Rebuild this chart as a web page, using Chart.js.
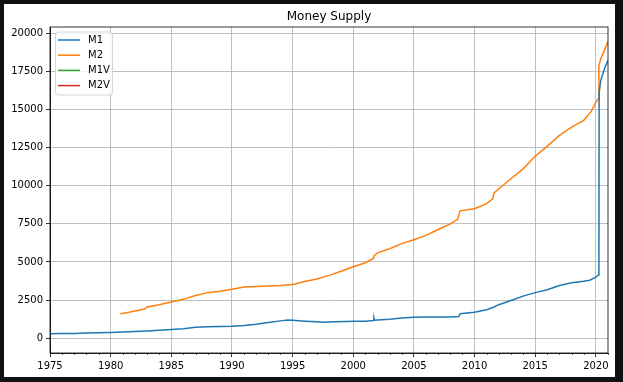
<!DOCTYPE html>
<html>
<head>
<meta charset="utf-8">
<script src="https://cdn.jsdelivr.net/npm/chart.js@4"></script>
<style>
  html, body { margin: 0; padding: 0; background: #111111; }
  canvas { display: block; }
</style>
</head>
<body>
<canvas id="c" width="623" height="382"></canvas>
<script>
const chartTitle = "Money Supply";
const seriesNames = ["M1", "M2", "M1V", "M2V"];
const seriesColors = ["#1f77b4", "#ff7f0e", "#2ca02c", "#d62728"];
const xTicks = [1975, 1980, 1985, 1990, 1995, 2000, 2005, 2010, 2015, 2020];
const yTicks = [0, 2500, 5000, 7500, 10000, 12500, 15000, 17500, 20000];

const m1Years = [1975.0, 1976.0, 1977.0, 1978.0, 1979.0, 1980.0, 1981.0, 1982.0, 1983.0, 1984.0,
  1985.0, 1986.0, 1987.0, 1988.0, 1989.0, 1990.0, 1991.0, 1992.0, 1993.0, 1994.0, 1994.6, 1995.0,
  1996.0, 1997.0, 1997.5, 1998.5, 1999.5, 2000.0, 2001.0, 2001.68, 2001.70, 2001.74, 2002.0, 2003.0,
  2004.0, 2005.0, 2006.0, 2007.0, 2008.0, 2008.7, 2008.8, 2009.0, 2010.0, 2011.0, 2011.6, 2012.0,
  2013.0, 2014.0, 2015.0, 2016.0, 2017.0, 2018.0, 2019.0, 2019.5, 2020.0, 2020.2, 2020.25, 2020.27,
  2020.4, 2020.75, 2021.0];
const m1Values = [295, 305, 320, 345, 365, 385, 410, 440, 480, 520,
  570, 630, 720, 750, 775, 790, 830, 920, 1030, 1140, 1190, 1180,
  1120, 1075, 1050, 1075, 1100, 1110, 1110, 1160, 1320, 1180, 1200, 1250,
  1330, 1380, 1390, 1390, 1395, 1430, 1600, 1620, 1700, 1870, 2050, 2200,
  2480, 2760, 2990, 3180, 3460, 3640, 3730, 3800, 4000, 4150, 4900, 16100,
  16880, 17760, 18200];

const m2Years = [1980.8, 1981.5, 1982.0, 1982.8, 1983.0, 1984.0, 1985.0, 1986.0, 1987.0, 1988.0,
  1989.0, 1990.0, 1991.0, 1992.0, 1993.0, 1994.0, 1995.0, 1996.0, 1997.0, 1998.0, 1999.0, 2000.0,
  2001.0, 2001.68, 2001.72, 2002.0, 2003.0, 2004.0, 2005.0, 2006.0, 2007.0, 2008.0, 2008.6, 2008.8,
  2010.0, 2011.0, 2011.5, 2011.6, 2012.0, 2013.0, 2014.0, 2015.0, 2016.0, 2017.0, 2018.0, 2019.0,
  2019.6, 2020.0, 2020.2, 2020.25, 2020.4, 2020.75, 2021.0];
const m2Values = [1610, 1700, 1780, 1920, 2050, 2200, 2380, 2550, 2800, 2990,
  3080, 3210, 3360, 3400, 3430, 3450, 3530, 3720, 3880, 4120, 4390, 4690,
  4950, 5250, 5420, 5600, 5870, 6200, 6460, 6740, 7130, 7500, 7790, 8350,
  8490, 8820, 9140, 9520, 9800, 10450, 11100, 11930, 12590, 13290, 13830, 14280,
  14850, 15460, 15690, 17870, 18300, 18960, 19440];

const m1vYears = [];
const m1vValues = [];
const m2vYears = [];
const m2vValues = [];

const xMin = 1975, xMax = 2021.0;
const yMin = -965, yMax = 20395;

function toPoints(xs, ys) { return xs.map((x, i) => ({ x: x, y: ys[i] })); }

const FONT = "'DejaVu Sans', sans-serif";

const figurePlugin = {
  id: 'figure',
  beforeDraw(chart) {
    const ctx = chart.ctx;
    ctx.save();
    ctx.fillStyle = '#ffffff';
    ctx.fillRect(4, 4, 611, 373);
    ctx.restore();
  },
  afterDraw(chart) {
    const ctx = chart.ctx;
    const a = chart.chartArea;
    const xs = chart.scales.x;
    ctx.save();
    // minor ticks on x axis
    ctx.strokeStyle = '#000';
    ctx.lineWidth = 0.6;
    for (let yr = Math.ceil(xMin); yr <= Math.floor(xMax); yr++) {
      if (yr % 5 === 0) continue;
      const px = Math.round(xs.getPixelForValue(yr)) + 0.5;
      ctx.beginPath();
      ctx.moveTo(px, a.bottom);
      ctx.lineTo(px, a.bottom + 2);
      ctx.stroke();
    }
    // spines
    ctx.lineWidth = 0.8;
    ctx.strokeRect(a.left, a.top, a.right - a.left, a.bottom - a.top);
    // legend
    const bx = 55.5, by = 32, bw = 57, bh = 63, r = 3;
    ctx.beginPath();
    ctx.moveTo(bx + r, by);
    ctx.lineTo(bx + bw - r, by);
    ctx.arcTo(bx + bw, by, bx + bw, by + r, r);
    ctx.lineTo(bx + bw, by + bh - r);
    ctx.arcTo(bx + bw, by + bh, bx + bw - r, by + bh, r);
    ctx.lineTo(bx + r, by + bh);
    ctx.arcTo(bx, by + bh, bx, by + bh - r, r);
    ctx.lineTo(bx, by + r);
    ctx.arcTo(bx, by, bx + r, by, r);
    ctx.closePath();
    ctx.fillStyle = 'rgba(255,255,255,0.8)';
    ctx.fill();
    ctx.strokeStyle = 'rgba(204,204,204,0.8)';
    ctx.lineWidth = 1;
    ctx.stroke();
    ctx.font = '10px ' + FONT;
    ctx.textBaseline = 'middle';
    ctx.textAlign = 'left';
    seriesNames.forEach((name, i) => {
      const ly = 40 + i * 15.2;
      ctx.strokeStyle = seriesColors[i];
      ctx.lineWidth = 1.5;
      ctx.beginPath();
      ctx.moveTo(58, ly);
      ctx.lineTo(80, ly);
      ctx.stroke();
      ctx.fillStyle = '#000';
      ctx.fillText(name, 88, ly);
    });
    ctx.restore();
  }
};

const datasets = [
  toPoints(m1Years, m1Values),
  toPoints(m2Years, m2Values),
  toPoints(m1vYears, m1vValues),
  toPoints(m2vYears, m2vValues)
].map((pts, i) => ({
  label: seriesNames[i],
  data: pts,
  borderColor: seriesColors[i],
  backgroundColor: seriesColors[i],
  borderWidth: 1.5,
  pointRadius: 0,
  tension: 0,
  fill: false
}));

new Chart(document.getElementById('c'), {
  type: 'line',
  data: { datasets: datasets },
  plugins: [figurePlugin],
  options: {
    responsive: false,
    animation: false,
    devicePixelRatio: 1,
    layout: { padding: { left: 0, right: 15, top: 0, bottom: 0 } },
    plugins: {
      legend: { display: false },
      tooltip: { enabled: false },
      title: {
        display: true,
        text: chartTitle,
        fullSize: false,
        color: '#000',
        font: { family: FONT, size: 12, weight: 'normal', lineHeight: 1.2 },
        padding: { top: 10, bottom: 2.6 }
      }
    },
    scales: {
      x: {
        type: 'linear',
        min: xMin,
        max: xMax,
        afterBuildTicks(scale) { scale.ticks = xTicks.map(v => ({ value: v })); },
        afterFit(scale) { scale.height = 29; },
        ticks: {
          color: '#000',
          font: { family: FONT, size: 10 },
          padding: 3,
          maxRotation: 0,
          autoSkip: false,
          callback: v => String(v)
        },
        grid: { color: '#b0b0b0', lineWidth: 0.8, tickColor: '#000', tickLength: 4, tickWidth: 0.8 },
        border: { display: true, color: '#000', width: 0.8 }
      },
      y: {
        type: 'linear',
        min: yMin,
        max: yMax,
        afterBuildTicks(scale) { scale.ticks = yTicks.map(v => ({ value: v })); },
        afterFit(scale) { scale.width = 50; },
        ticks: {
          color: '#000',
          font: { family: FONT, size: 10 },
          padding: 3,
          autoSkip: false,
          callback: v => String(v)
        },
        grid: { color: '#b0b0b0', lineWidth: 0.8, tickColor: '#000', tickLength: 4, tickWidth: 0.8 },
        border: { display: true, color: '#000', width: 0.8 }
      }
    }
  }
});
</script>
</body>
</html>
